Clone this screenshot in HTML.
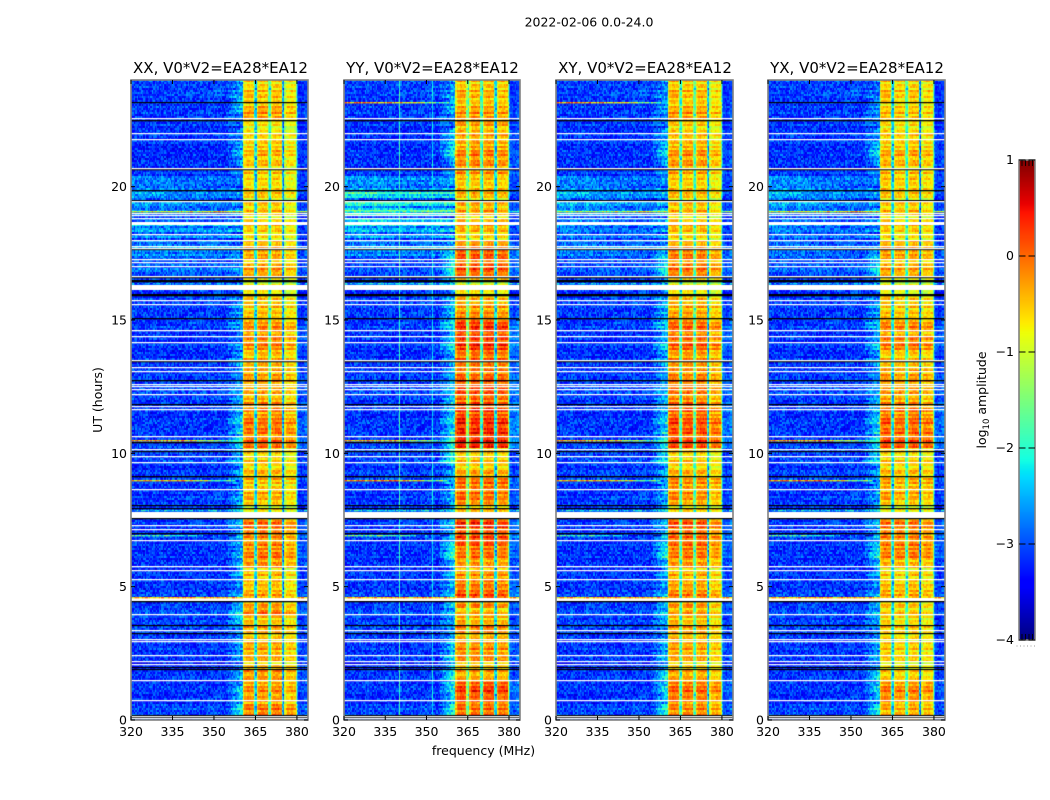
<!DOCTYPE html>
<html lang="en">
<head>
<meta charset="utf-8">
<title>2022-02-06 0.0-24.0 amplitude waterfall</title>
<style>
  html,body{margin:0;padding:0;background:#fff;width:1050px;height:800px;overflow:hidden}
  #figure{position:relative;width:1050px;height:800px;background:#fff}
  canvas{position:absolute;display:block}
  svg{position:absolute;left:0;top:0}
  text{font-family:"DejaVu Sans","Liberation Sans",sans-serif;fill:#000}
</style>
</head>
<body>
<div id="figure">
  <canvas id="heatmap-xx" width="177" height="640" style="left:131px;top:80px"></canvas>
  <canvas id="heatmap-yy" width="176" height="640" style="left:344px;top:80px"></canvas>
  <canvas id="heatmap-xy" width="177" height="640" style="left:556px;top:80px"></canvas>
  <canvas id="heatmap-yx" width="177" height="640" style="left:768px;top:80px"></canvas>
  <canvas id="colorbar-canvas" width="16" height="480" style="left:1019px;top:160px"></canvas>
  <svg id="overlay" width="1050" height="800" viewBox="0 0 1050 800">
    <text x="589" y="26.5" font-size="12.5" text-anchor="middle">2022-02-06 0.0-24.0</text>
    <text x="220.5" y="73" font-size="15" text-anchor="middle">XX, V0*V2=EA28*EA12</text>
    <text x="432.5" y="73" font-size="15" text-anchor="middle">YY, V0*V2=EA28*EA12</text>
    <text x="645" y="73" font-size="15" text-anchor="middle">XY, V0*V2=EA28*EA12</text>
    <text x="857" y="73" font-size="15" text-anchor="middle">YX, V0*V2=EA28*EA12</text>
    <text x="483.5" y="755" font-size="12.5" text-anchor="middle">frequency (MHz)</text>
    <text transform="translate(102,400) rotate(-90)" font-size="12.5" text-anchor="middle">UT (hours)</text>
    <text transform="translate(986,400) rotate(-90)" font-size="12.5" text-anchor="middle">log<tspan font-size="8.5" dy="3">10</tspan><tspan dy="-3"> amplitude</tspan></text>
  </svg>
</div>
<script>
/* ---------- chart data, estimated by eye from the reference ---------- */
/* Axis ticks */
const xTickValues = [320, 335, 350, 365, 380];
const yTickValues = [0, 5, 10, 15, 20];
const colorbarTickValues = [1, 0, -1, -2, -3, -4];
const colorbarTickLabels = ["1", "0", "\u22121", "\u22122", "\u22123", "\u22124"];

/* Band level, log10 amplitude: 80 blocks of 0.3 h each, listed from UT 24 down to UT 0 */
const xxBright = [-.6,-.6,-.55,-.4,-.35,-.75,-.75,-.7,-.5,-.55,-.55,-.6,-.7,-.65,-.65,-.65,-.6,-.6,-.65,-.65,-.5,-.45,-.4,-.4,-.4,-.9,-.6,-.6,-.6,-.55,-.3,-.25,-.2,-.3,-.5,-.55,-.35,-.3,-.45,-.45,-.35,-.25,-.2,-.1,-.15,-.1,-.55,-.65,-.55,-.5,-.55,-.5,-.5,-.7,-.6,-.1,-.1,-.35,-.2,-.2,-.25,-.55,-.6,-.5,-.45,-.4,-.25,-.5,-.45,-.5,-.45,-.45,-.45,-.35,-.4,-.35,-.3,-.35,-.15,-.2];
const yyBright = [-.45,-.45,-.45,-.35,-.25,-.3,-.4,-.45,-.25,-.2,-.2,-.25,-.55,-.5,-.5,-.45,-.4,-.4,-.45,-.5,-.25,0,.1,.05,-.05,-.9,-.5,-.45,-.35,-.2,.2,.25,.2,.2,-.05,-.2,-.05,.1,.1,.05,0,.2,.25,.3,.35,.3,-.45,-.55,-.45,-.3,0,-.1,-.1,-.35,-.3,.25,.15,.1,0,-.15,-.25,-.3,-.25,-.05,.05,-.2,-.55,-.35,-.2,-.35,-.3,-.25,-.25,-.4,-.45,.1,.2,.05,-.05,-.05];
const xyBright = [-.5,-.5,-.5,-.4,-.3,-.55,-.55,-.55,-.35,-.3,-.3,-.4,-.6,-.55,-.55,-.55,-.5,-.5,-.5,-.55,-.4,-.2,-.1,-.15,-.2,-.9,-.55,-.5,-.45,-.35,-.05,-.05,-.05,-.05,-.3,-.4,-.2,-.1,-.15,-.2,-.15,0,.05,.1,.1,.1,-.5,-.6,-.5,-.4,-.2,-.3,-.3,-.5,-.4,.05,0,-.1,-.05,-.2,-.25,-.45,-.45,-.3,-.2,-.3,-.45,-.45,-.4,-.4,-.4,-.4,-.4,-.45,-.45,-.1,-.05,-.15,-.2,-.2];
const yxBright = [-.55,-.55,-.55,-.55,-.5,-.65,-.6,-.65,-.45,-.4,-.45,-.5,-.55,-.55,-.6,-.6,-.55,-.55,-.6,-.6,-.4,-.35,-.35,-.4,-.4,-.9,-.7,-.6,-.6,-.5,-.2,-.25,-.1,-.2,-.55,-.6,-.3,-.25,-.35,-.35,-.3,-.1,-.05,-.05,.05,.05,-.55,-.6,-.5,-.5,-.35,-.4,-.45,-.7,-.5,-.1,-.1,-.25,-.1,-.2,-.4,-.6,-.65,-.4,-.45,-.55,-.65,-.6,-.6,-.6,-.6,-.6,-.6,-.65,-.65,-.25,-.15,-.25,-.4,-.4];

/* Background level below 355 MHz: 40 blocks of 0.6 h each, from UT 24 down to UT 0 */
const xxFloor = [-3.05,-3.1,-3.1,-3.15,-3.2,-3.15,-2.95,-2.9,-2.95,-2.75,-2.8,-2.95,-3.0,-3.05,-3.1,-3.1,-3.15,-3.15,-3.1,-3.05,-3.15,-3.15,-3.1,-3.05,-3.15,-3.15,-3.1,-3.1,-3.15,-3.15,-3.15,-3.15,-3.1,-3.05,-3.1,-3.15,-3.2,-3.15,-3.15,-3.05];
const yyFloor = [-3.05,-3.1,-3.1,-3.2,-3.15,-3.15,-2.85,-2.55,-2.45,-2.7,-2.8,-3.05,-3.05,-3.05,-3.1,-3.1,-3.15,-3.15,-3.1,-3.05,-3.15,-3.15,-3.1,-3.05,-3.1,-3.15,-3.1,-3.1,-3.15,-3.15,-3.15,-3.15,-3.1,-3.05,-3.1,-3.15,-3.15,-3.15,-3.15,-3.05];
const xyFloor = [-3.05,-3.1,-3.1,-3.15,-3.15,-3.15,-2.95,-2.85,-2.9,-2.9,-2.9,-3.0,-3.05,-3.05,-3.1,-3.1,-3.15,-3.15,-3.1,-3.05,-3.15,-3.15,-3.1,-3.05,-3.1,-3.15,-3.1,-3.1,-3.15,-3.15,-3.15,-3.15,-3.1,-3.05,-3.1,-3.15,-3.15,-3.15,-3.15,-3.05];
const yxFloor = [-3.05,-3.1,-3.1,-3.15,-3.15,-3.15,-2.95,-2.9,-2.95,-2.9,-2.95,-3.0,-3.05,-3.05,-3.1,-3.1,-3.15,-3.15,-3.1,-3.05,-3.15,-3.15,-3.1,-3.05,-3.1,-3.15,-3.1,-3.1,-3.15,-3.15,-3.15,-3.15,-3.1,-3.05,-3.1,-3.15,-3.15,-3.15,-3.15,-3.05];

/* Extra level at the 320 MHz edge, same 40 blocks */
const xxTilt = [0,0,0,0,0,0,.2,.25,.1,0,0,.1,0,0,0,0,0,0,0,0,0,0,0,0,0,0,0,0,0,0,0,0,0,0,0,0,0,0,0,0];
const yyTilt = [0,0,0,0,0,0,.2,.3,.2,.1,0,0,0,0,0,0,0,0,0,0,0,0,0,0,0,0,0,0,0,0,0,0,0,0,0,0,0,0,0,0];
const xyTilt = [0,0,0,0,0,0,.25,.3,.2,.1,.1,0,0,0,0,0,0,0,0,0,0,0,0,0,0,0,0,0,0,0,0,0,0,0,0,0,0,0,0,0];
const yxTilt = [0,0,0,0,0,0,.3,.35,.15,.1,.1,.1,0,0,0,0,0,0,0,0,0,0,0,0,0,0,0,0,0,0,0,0,0,0,0,0,0,0,0,0];

/* Level reached at the lower band edge (355 to 360.5 MHz ramp), same 40 blocks */
const xxWedge = [-2.6,-2.4,-2.9,-2.7,-2.5,-2.7,-2.8,-2.8,-2.7,-2.8,-2.9,-2.7,-2.8,-2.8,-2.7,-2.6,-2.7,-2.6,-2.6,-2.4,-2.5,-2.2,-2.1,-2.5,-2.5,-2.7,-2.4,-2.5,-2.4,-2.6,-2.4,-2.6,-2.4,-2.2,-2.6,-2.5,-2.7,-2.6,-2.3,-2.2];
const yyWedge = [-2.6,-2.5,-2.8,-2.3,-2.1,-2.6,-2.5,-2.4,-2.4,-2.6,-2.5,-1.9,-2.0,-2.6,-2.5,-2.1,-2.1,-2.6,-2.4,-2.2,-2.3,-2.1,-1.9,-1.9,-2.5,-2.4,-2.5,-2.4,-2.2,-1.9,-2.4,-2.4,-2.2,-2.5,-2.5,-2.3,-2.2,-2.0,-2.2,-2.0];
const xyWedge = [-2.7,-2.6,-2.8,-2.5,-2.3,-2.6,-2.6,-2.6,-2.5,-2.7,-2.6,-2.1,-2.2,-2.6,-2.6,-2.3,-2.3,-2.6,-2.5,-2.3,-2.4,-2.2,-2.0,-2.1,-2.5,-2.5,-2.5,-2.5,-2.3,-2.1,-2.5,-2.5,-2.3,-2.4,-2.6,-2.4,-2.4,-2.2,-2.3,-2.1];
const yxWedge = [-2.9,-2.7,-2.8,-2.6,-2.3,-2.7,-2.7,-2.7,-2.6,-2.8,-2.7,-2.2,-2.4,-2.8,-2.7,-2.4,-2.4,-2.7,-2.6,-2.4,-2.4,-2.2,-2.1,-2.2,-2.6,-2.6,-2.6,-2.5,-2.4,-2.2,-2.5,-2.6,-2.4,-2.5,-2.6,-2.5,-2.5,-2.3,-2.4,-2.2];

/* Level in the three narrow gaps between bands (365, 370, 375 MHz) */
const xxNotch = [-2.4, -2.0, -2.8];
const yyNotch = [-1.8, -2.2, -2.4];
const xyNotch = [-2.0, -1.9, -2.6];
const yxNotch = [-2.4, -2.0, -2.9];

/* Offset of each of the four bands */
const xxBandOffset = [0, .05, .05, -.2];
const yyBandOffset = [0, 0, 0, -.1];
const xyBandOffset = [0, 0, 0, -.25];
const yxBandOffset = [0, -.05, 0, -.15];

/* Profile across one band (first 8 channels) and across the channels above 380 MHz */
const bandShape = [-.4, -.05, 0, .05, .05, .05, 0, -.05];
const upperShape = [.45, .05, 0, 0, .03, .08, .15, .3];

/* Narrow vertical interference lines in YY */
const yySpikeMHz = [340, 352];
const yySpikeLevel = [-1.9, -2.3];

/* Rows with strong interference: UT and peak level per panel (-4 = no streak) */
const streakUT = [23.16, 19.05, 10.49, 8.99, 6.93, 4.58, 16.37, 7.87];
const streakAcrossAll = [0, 1, 0, 0, 0, 1, 1, 1];
const xxStreakPeak = [-4, -.8, -.5, -.5, -2.0, -.5, -2.8, -2.4];
const yyStreakPeak = [-.3, -1.7, -.6, -.2, -1.7, -.5, -2.4, -2.3];
const xyStreakPeak = [-.3, -1.0, -.5, -.4, -2.1, -.5, -2.6, -2.4];
const yxStreakPeak = [-4, -.7, -.4, -.2, -2.0, -.5, -2.7, -2.4];

/* Flagged (white) integrations, UT hours */
const flaggedUT = [22.55,22.0,21.78,20.67,19.44,18.99,18.91,18.79,18.19,17.99,17.76,17.7,17.26,17.16,17.01,16.62,15.72,15.6,14.61,14.39,14.16,13.47,13.23,13.08,12.59,12.5,12.41,12.2,11.74,11.66,10.65,10.15,9.87,9.66,8.65,7.3,7.15,6.74,5.76,5.61,5.28,3.96,3.36,3.03,2.94,2.43,2.2,2.09,1.49,.74,.13,.05];
const flaggedSpanStart = [16.125, 7.575, 18.55, 4.47];
const flaggedSpanEnd = [16.32, 7.81, 18.66, 4.56];

/* Zero-amplitude (black) integrations, UT hours */
const darkUT = [23.16,22.49,20.64,19.86,19.49,17.63,16.59,16.49,15.95,15.04,13.44,12.75,11.84,10.41,10.06,9.12,8.05,7.95,7.55,7.0,4.43,3.54,3.25,1.98,1.91,.18,.09];
const darkThickness = [1.2,1.3,1.3,1.3,1.3,1.2,1.3,2.3,2.3,1.3,1.3,1.3,1.2,1.3,1.2,1.3,1.2,1.2,1.3,1.3,1.3,1.2,1.2,1.1,1.1,1.2,1.2];

/* Hand-typed fine-grain texture tiles, laid on top of the estimated levels */
const speckle = [1,-2,0,3,-1,2,-3,0,1,-1,2,-2,3,0,-3,1,-1,2,0,-2,3,-1,1,-3,2,0,-2,1,3,-1,-2,0,2,-3,1,-1,3,0,-2,2,-1,1,-3,0,3,-2,1,-1,2,-3,0,1,3,-2,-1,2,0,-3,1,2,-1,-2,3,0,1,-3,2,-1,0,-2,3,1,-1,2,-3,0,-2,1,3,-1,2,0,-3,1,-2,3,-1,0,2,-2,1,-3,3,0,-1,2,-2,1,0,-3,2];
const rowRipple = [1,-1,2,0,-2,3,-1,1,-3,2,0,1,-2,-1,3,0,2,-2,1,-3,2,1,-1,0,3,-2,1,-1,-3,2,0,2,-1,1,-2,3,0,-1,2,-3,1,0,-2,2,1,-1,3,-2,0,1,-3,2,-1,3,0,-2,1,2,-1,-3,1,0,3,-1,2,-2,0];

/* ---------- geometry and scales ---------- */
const freqMin = 320, freqMax = 384, channelWidth = 0.5, rowCount = 320, utMax = 24, levelMin = -4, levelMax = 1;
const channelCount = (freqMax - freqMin) / channelWidth;

function xScale(freq, width) { return (freq - freqMin) / (freqMax - freqMin) * width; }
function yScale(ut, height) { return height - ut / utMax * height; }
function levelScale(level) { return (level - levelMin) / (levelMax - levelMin); }

function clamp01(t) { return t < 0 ? 0 : t > 1 ? 1 : t; }
function jet(t) {
  t = clamp01(t);
  const r = t < .35 ? 0 : t < .66 ? (t - .35) / .31 : t < .89 ? 1 : 1 - (t - .89) / .11 * .5;
  const g = t < .125 ? 0 : t < .375 ? (t - .125) / .25 : t < .64 ? 1 : t < .91 ? 1 - (t - .64) / .27 : 0;
  const b = t < .11 ? .5 + t / .11 * .5 : t < .34 ? 1 : t < .65 ? 1 - (t - .34) / .31 : 0;
  return "rgb(" + Math.round(r * 255) + "," + Math.round(g * 255) + "," + Math.round(b * 255) + ")";
}
const colorLookup = [];
for (let i = 0; i <= 255; i++) colorLookup.push(jet(i / 255));
function levelColor(level) { return colorLookup[Math.round(clamp01(levelScale(level)) * 255)]; }

function grain(c, r) { return speckle[(c * c * 3 + r * r * 5 + c * r * 13 + c * 7 + r * 3) % speckle.length]; }

/* Level of one heatmap cell from the panel's arrays. */
function cellLevel(p, c, r) {
  const rowFromTop = rowCount - 1 - r;
  const bright = p.bright[Math.floor(rowFromTop / 4)];
  const block = Math.floor(rowFromTop / 8);
  const floor = p.floor[block], wedge = p.wedge[block], tilt = p.tilt[block];
  const ripple = rowRipple[r % rowRipple.length];
  const g = grain(c, r);
  const freq = freqMin + c * channelWidth;

  if (freq >= 360.5 && freq < 380) {
    const offset = (freq - 360.5) / 5;
    const band = Math.floor(offset);
    const inBand = c - (81 + band * 10);
    if (inBand === 9) return p.notch[band] + g * .15 + ripple * .08;
    if (inBand === 8) return (band < 3 ? p.notch[band] + .45 : bright - 1.0) + g * .15;
    return bright + p.bandOffset[band] + bandShape[inBand] + ripple * .11 + g * .07;
  }
  if (freq >= 380) {
    return -3.2 + .45 * (bright + .6) + upperShape[c - 120] + g * .09 + ripple * .05;
  }
  let level = floor + tilt * (1 - c / 72) + g * .13 + ripple * (.03 + Math.max(0, floor + 3) * .4);
  for (let s = 0; s < p.spikeMHz.length; s++) {
    if (Math.abs(freq - p.spikeMHz[s]) < .25) level = Math.max(level, p.spikeLevel[s] + g * .08);
  }
  if (freq >= 355) {
    const w = (c - 68) / 12;
    level += (wedge - floor) * w + ripple * .07;
  }
  return level;
}

function drawPanel(p) {
  const cv = document.getElementById(p.id);
  const ctx = cv.getContext("2d");
  const W = cv.width, H = cv.height;
  for (let r = 0; r < rowCount; r++) {
    const y1 = Math.round(yScale(r * utMax / rowCount, H));
    const y0 = Math.round(yScale((r + 1) * utMax / rowCount, H));
    for (let c = 0; c < channelCount; c++) {
      const x0 = Math.round(xScale(freqMin + c * channelWidth, W));
      const x1 = Math.round(xScale(freqMin + (c + 1) * channelWidth, W));
      ctx.fillStyle = levelColor(cellLevel(p, c, r));
      ctx.fillRect(x0, y0, x1 - x0, y1 - y0);
    }
  }
  ctx.fillStyle = "#000";
  darkUT.forEach(function (ut, i) {
    if (i === 0 && p.streakPeak[0] > levelMin) return;
    ctx.fillRect(0, Math.round(yScale(ut, H) - .5), W, darkThickness[i]);
  });
  ctx.fillStyle = "#fff";
  flaggedUT.forEach(function (ut) { ctx.fillRect(0, Math.round(yScale(ut, H) - .5), W, 1.25); });
  flaggedSpanStart.forEach(function (start, i) {
    const top = Math.round(yScale(flaggedSpanEnd[i], H));
    ctx.fillRect(0, top, W, Math.round(yScale(start, H)) - top);
  });
  streakUT.forEach(function (ut, s) {
    const peak = p.streakPeak[s];
    if (peak <= levelMin) return;
    const y = Math.round(yScale(ut, H) - .5);
    for (let c = 0; c < channelCount; c++) {
      const freq = freqMin + c * channelWidth;
      if (freq >= 360.5 && freq < 380) continue;
      if (!streakAcrossAll[s] && freq >= 358) continue;
      const fade = streakAcrossAll[s] ? 0 : Math.max(0, freq - 338) * .085;
      const level = peak - fade + grain(c, s * 11) * .2;
      const x0 = Math.round(xScale(freq, W));
      const x1 = Math.round(xScale(freq + channelWidth, W));
      ctx.fillStyle = levelColor(level);
      ctx.fillRect(x0, y, x1 - x0, 1.4);
    }
  });
}

const panels = [
  { id: "heatmap-xx", key: "xx", left: 131, width: 177, bright: xxBright, floor: xxFloor, wedge: xxWedge, tilt: xxTilt, notch: xxNotch, bandOffset: xxBandOffset, streakPeak: xxStreakPeak, spikeMHz: [], spikeLevel: [] },
  { id: "heatmap-yy", key: "yy", left: 344, width: 176, bright: yyBright, floor: yyFloor, wedge: yyWedge, tilt: yyTilt, notch: yyNotch, bandOffset: yyBandOffset, streakPeak: yyStreakPeak, spikeMHz: yySpikeMHz, spikeLevel: yySpikeLevel },
  { id: "heatmap-xy", key: "xy", left: 556, width: 177, bright: xyBright, floor: xyFloor, wedge: xyWedge, tilt: xyTilt, notch: xyNotch, bandOffset: xyBandOffset, streakPeak: xyStreakPeak, spikeMHz: [], spikeLevel: [] },
  { id: "heatmap-yx", key: "yx", left: 768, width: 177, bright: yxBright, floor: yxFloor, wedge: yxWedge, tilt: yxTilt, notch: yxNotch, bandOffset: yxBandOffset, streakPeak: yxStreakPeak, spikeMHz: [], spikeLevel: [] }
];
panels.forEach(drawPanel);

/* ---------- axes ---------- */
const overlay = document.getElementById("overlay");
const svgNS = "http://www.w3.org/2000/svg";
const frameColor = "#808080";
const plotTop = 80, plotHeight = 640;

function addLine(x1, y1, x2, y2, color, width, name) {
  const line = document.createElementNS(svgNS, "line");
  line.setAttribute("x1", x1);
  line.setAttribute("y1", y1);
  line.setAttribute("x2", x2);
  line.setAttribute("y2", y2);
  line.setAttribute("stroke", color);
  line.setAttribute("stroke-width", width);
  
  
  overlay.appendChild(line);
}
function addLabel(x, y, label, anchor, name) {
  const text = document.createElementNS(svgNS, "text");
  text.setAttribute("x", x);
  text.setAttribute("y", y);
  text.setAttribute("font-size", "12.5");
  text.setAttribute("text-anchor", anchor);
  
  
  text.textContent = label;
  overlay.appendChild(text);
}
function addFrame(x, y, w, h, name) {
  const rect = document.createElementNS(svgNS, "rect");
  rect.setAttribute("x", x);
  rect.setAttribute("y", y);
  rect.setAttribute("width", w);
  rect.setAttribute("height", h);
  rect.setAttribute("fill", "none");
  rect.setAttribute("stroke", frameColor);
  rect.setAttribute("stroke-width", "1.6");
  
  
  overlay.appendChild(rect);
}

panels.forEach(function (p) {
  addFrame(p.left, plotTop, p.width, plotHeight, p.key + "-panel-frame");
  const bottom = plotTop + plotHeight;
  xTickValues.forEach(function (f) {
    const x = p.left + xScale(f, p.width);
    addLine(x, bottom, x, bottom - 4, "#000", 1, p.key + "-x-tick-bottom");
    addLine(x, plotTop, x, plotTop + 4, "#000", 1, p.key + "-x-tick-top");
    addLabel(x, bottom + 16, String(f), "middle", p.key + "-x-tick-label");
  });
  yTickValues.forEach(function (ut) {
    const y = plotTop + yScale(ut, plotHeight);
    addLine(p.left, y, p.left + 4, y, "#000", 1, p.key + "-y-tick-left");
    addLine(p.left + p.width, y, p.left + p.width - 4, y, "#000", 1, p.key + "-y-tick-right");
    addLabel(p.left - 4, y + 4.5, String(ut), "end", p.key + "-y-tick-label");
  });
});

/* ---------- colorbar ---------- */
const cbCanvas = document.getElementById("colorbar-canvas");
const cbContext = cbCanvas.getContext("2d");
for (let y = 0; y < cbCanvas.height; y++) {
  cbContext.fillStyle = jet(1 - (y + .5) / cbCanvas.height);
  cbContext.fillRect(0, y, cbCanvas.width, 1);
}
const cbLeft = 1019, cbWidth = 16, cbTop = 160, cbHeight = 480;
function colorbarY(level) { return cbTop + (1 - levelScale(level)) * cbHeight; }
addFrame(cbLeft, cbTop, cbWidth, cbHeight, "colorbar-frame");
colorbarTickValues.forEach(function (level, i) {
  const y = colorbarY(level);
  addLine(cbLeft, y, cbLeft + 6.5, y, "#000", 1, "colorbar-tick-left");
  addLine(cbLeft + cbWidth, y, cbLeft + cbWidth - 6.5, y, "#000", 1, "colorbar-tick-right");
  addLabel(1014, y + 4, colorbarTickLabels[i], "end", "colorbar-tick-label");
});
[3, 6.5, 10, 13.5].forEach(function (dx) {
  addLine(cbLeft + dx, cbTop + .5, cbLeft + dx, cbTop + 6, "#000", .9, "colorbar-minor-tick-top");
  addLine(cbLeft + dx, cbTop + cbHeight - .5, cbLeft + dx, cbTop + cbHeight - 6, "#000", .9, "colorbar-minor-tick-bottom");
});
[-2, 1.5, 5, 8.5, 12, 15.5].forEach(function (dx) {
  addLine(cbLeft + dx, 645.5, cbLeft + dx, 646.5, "#999", 1, "colorbar-minor-tick-dot");
});
</script>
</body>
</html>
